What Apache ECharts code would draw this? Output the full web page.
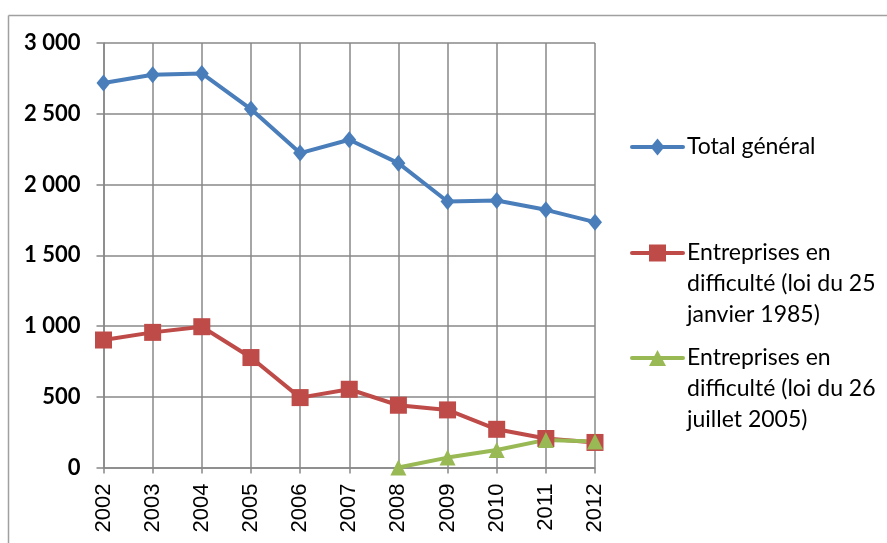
<!DOCTYPE html>
<html><head><meta charset="utf-8">
<script src="https://cdn.jsdelivr.net/npm/echarts@6/dist/echarts.min.js"></script>
<style>html,body{margin:0;padding:0;background:#fff}#c{width:887px;height:543px}</style>
</head><body><div id="c"></div>
<script>
const years = ['2002','2003','2004','2005','2006','2007','2008','2009','2010','2011','2012'];
const totalGeneral = [2717, 2776, 2785, 2533, 2222, 2316, 2151, 1880, 1887, 1821, 1734];
const loi1985 = [901, 955, 995, 777, 494, 553, 440, 407, 270, 205, 177];
const loi2005 = [null, null, null, null, null, null, 0, 70, 124, 195, 183];
const yTicks = [0, 500, 1000, 1500, 2000, 2500, 3000];
const names = ['Total général', 'Entreprises en difficulté (loi du 25 janvier 1985)', 'Entreprises en difficulté (loi du 26 juillet 2005)'];
const legendLines = [['Total général'], ['Entreprises en', 'difficulté (loi du 25', 'janvier 1985)'], ['Entreprises en', 'difficulté (loi du 26', 'juillet 2005)']];

const colors = ['#4A7EBB', '#BE4B48', '#98B954'];
const chart = echarts.init(document.getElementById('c'));
const gridC = '#888888';
function fmt(v){ return v >= 1000 ? Math.floor(v/1000) + ' ' + String(v%1000).padStart(3,'0') : String(v); }

// legend drawn as graphics
const legY = [147, 253, 358];
const legendGraphics = [];
const symShapes = [
  (cx,cy)=>({type:'polygon', shape:{points:[[cx,cy-8.5],[cx+7,cy],[cx,cy+8.5],[cx-7,cy]]}}),
  (cx,cy)=>({type:'rect', shape:{x:cx-8.5,y:cy-8.5,width:17,height:17}}),
  (cx,cy)=>({type:'polygon', shape:{points:[[cx,cy-8],[cx+8.5,cy+8],[cx-8.5,cy+8]]}})
];
legendLines.forEach((lines,i)=>{
  const y = legY[i];
  legendGraphics.push({type:'line', shape:{x1:632, y1:y, x2:683, y2:y}, style:{stroke:colors[i], lineWidth:4, lineCap:'round'}, silent:true});
  const s = symShapes[i](657.5, y); s.style = {fill:colors[i]}; s.silent = true;
  legendGraphics.push(s);
  lines.forEach((t,j)=>{
    legendGraphics.push({type:'text', x:687, y:y + j*31, silent:true,
      style:{text:t, fill:'#000', font:'23px Lato', textVerticalAlign:'middle', verticalAlign:'middle'}});
  });
});

chart.setOption({
  animation:false,
  color: colors,
  grid:{left:103.5, right:292, top:43, bottom:75.5, containLabel:false},
  xAxis:{type:'category', data:years, boundaryGap:false,
    axisLine:{lineStyle:{color:gridC, width:1.5}},
    axisTick:{show:true, length:6, lineStyle:{color:gridC, width:1.5}},
    splitLine:{show:true, lineStyle:{color:gridC, width:1.5}},
    axisLabel:{rotate:90, margin:16, fontFamily:'Liberation Sans', fontSize:22, color:'#000'}},
  yAxis:{type:'value', min:yTicks[0], max:yTicks[yTicks.length-1], interval:500,
    axisLine:{show:true, lineStyle:{color:gridC, width:1.5}},
    axisTick:{show:true, length:7, lineStyle:{color:gridC, width:1.5}},
    splitLine:{lineStyle:{color:gridC, width:1.5}},
    axisLabel:{margin:23, fontFamily:'Lato', fontWeight:'bold', fontSize:22, color:'#000', formatter:fmt}},
  series:[
    {name:names[0], type:'line', data:totalGeneral, symbol:'diamond', symbolSize:[14,17],
      lineStyle:{width:4, color:colors[0]}, itemStyle:{color:colors[0]}},
    {name:names[1], type:'line', data:loi1985, symbol:'rect', symbolSize:17,
      lineStyle:{width:4, color:colors[1]}, itemStyle:{color:colors[1]}},
    {name:names[2], type:'line', data:loi2005, symbol:'triangle', symbolSize:16,
      lineStyle:{width:4, color:colors[2]}, itemStyle:{color:colors[2]}}
  ],
  graphic:[
    {type:'line', shape:{x1:8.5, y1:15.5, x2:887, y2:15.5}, style:{stroke:'#A0A0A0', lineWidth:1.5}, silent:true},
    {type:'line', shape:{x1:8.5, y1:15.5, x2:8.5, y2:543}, style:{stroke:'#A0A0A0', lineWidth:1.5}, silent:true}
  ].concat(legendGraphics)
});
</script></body></html>
